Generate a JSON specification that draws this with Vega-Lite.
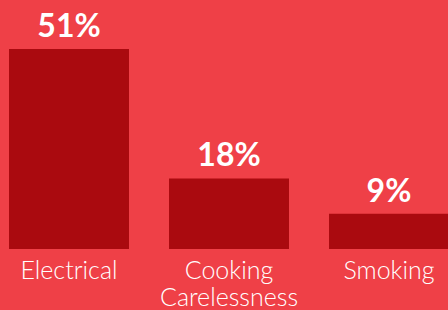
{
  "$schema": "https://vega.github.io/schema/vega-lite/v6.json",
  "width": 448,
  "height": 310,
  "autosize": "none",
  "padding": 0,
  "background": "#EF4047",
  "config": {"view": {"stroke": null}},
  "data": {"values": [
    {"cause": "Electrical", "share": 0.51},
    {"cause": "Cooking Carelessness", "share": 0.18},
    {"cause": "Smoking", "share": 0.09}
  ]},
  "encoding": {
    "x": {
      "field": "cause", "type": "nominal", "sort": null,
      "scale": {"range": [-11, 469], "paddingInner": 0.25, "paddingOuter": 0.125},
      "axis": {
        "title": null, "domain": false, "ticks": false, "offset": -61,
        "labelAngle": 0, "labelFont": "Lato", "labelFontWeight": 300,
        "labelFontSize": 25, "labelColor": "#FFFFFF", "labelPadding": 9,
        "labelLineHeight": 27,
        "labelExpr": "split(datum.label, ' ')"
      }
    },
    "y": {
      "field": "share", "type": "quantitative",
      "scale": {"domain": [0, 0.51], "range": [249, 49], "nice": false},
      "axis": null
    }
  },
  "layer": [
    {"mark": {"type": "bar", "color": "#AA0A0F"}},
    {
      "mark": {"type": "text", "color": "#FFFFFF", "font": "Lato", "fontWeight": "bold", "fontSize": 32, "baseline": "alphabetic", "dy": -12},
      "encoding": {"text": {"field": "share", "type": "quantitative", "format": ".0%"}}
    }
  ]
}
